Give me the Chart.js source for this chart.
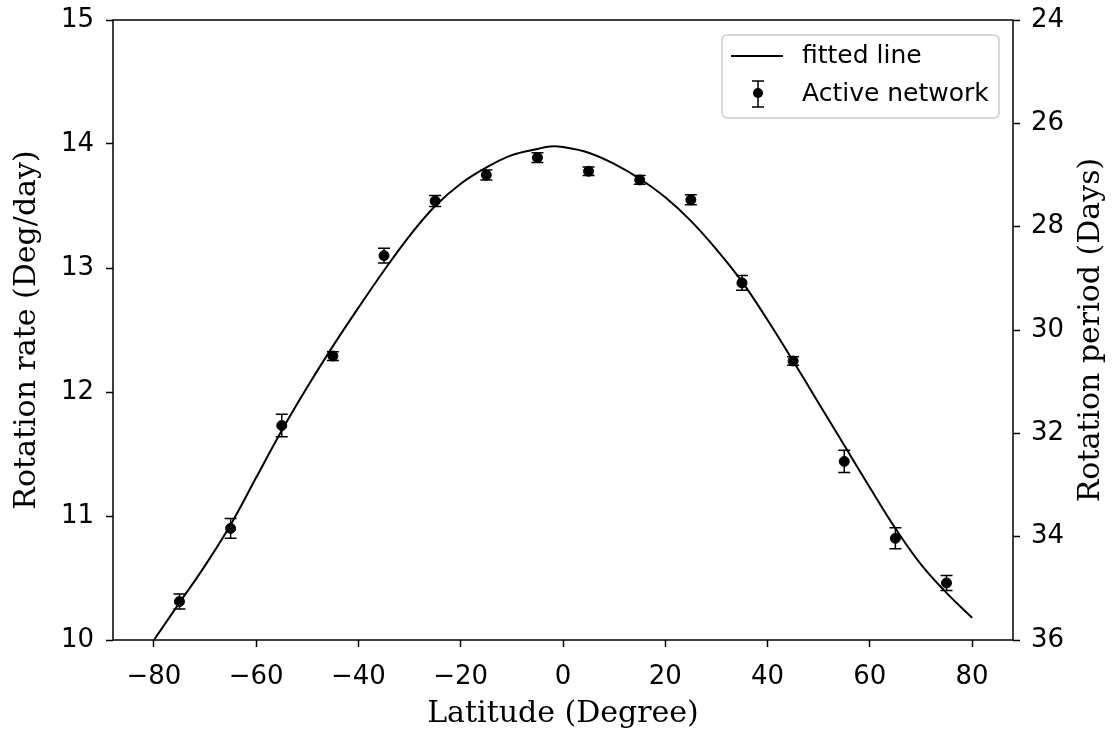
<!DOCTYPE html>
<html>
<head>
<meta charset="utf-8">
<script src="https://cdn.jsdelivr.net/npm/chart.js@4/dist/chart.umd.min.js"></script>
<style>
  html, body { margin: 0; padding: 0; background: #fff; }
  #wrap { width: 1114px; height: 736px; position: relative; }
</style>
</head>
<body>
<div id="wrap"><canvas id="rotationChart"></canvas></div>
<script>
// measured points (latitude, rotation rate, half error bar)
const latitudes = [-75, -65, -55, -45, -35, -25, -15, -5, 5, 15, 25, 35, 45, 55, 65, 75];
const rotationRate = [10.31, 10.90, 11.73, 12.29, 13.10, 13.54, 13.75, 13.89, 13.78, 13.71, 13.55, 12.88, 12.25, 11.44, 10.82, 10.46];
const rateError = [0.06, 0.08, 0.09, 0.035, 0.06, 0.045, 0.04, 0.04, 0.035, 0.035, 0.04, 0.06, 0.035, 0.09, 0.085, 0.06];

// fitted line
const fitLatitudes = [-80, -75, -70, -65, -60, -55, -50, -45, -40, -35, -30, -25, -20, -15, -10, -5, -2.5, 0, 5, 10, 15, 20, 25, 30, 35, 40, 45, 50, 55, 60, 65, 70, 75, 80];
const fitRate = [10.00, 10.30, 10.60, 10.93, 11.31, 11.69, 12.04, 12.37, 12.68, 12.98, 13.26, 13.50, 13.68, 13.81, 13.91, 13.96, 13.98, 13.975, 13.93, 13.84, 13.72, 13.57, 13.38, 13.15, 12.89, 12.58, 12.25, 11.91, 11.57, 11.23, 10.90, 10.61, 10.38, 10.18];

const xTicks = [-80, -60, -40, -20, 0, 20, 40, 60, 80];
const rateTicks = [10, 11, 12, 13, 14, 15];
const periodTicks = [24, 26, 28, 30, 32, 34, 36];

const legendLabels = ["fitted line", "Active network"];

const tickFont = { family: "DejaVu Sans", size: 26 };
const titleFont = { family: "DejaVu Serif", size: 30 };

function minus(v) {
  return v < 0 ? "\u2212" + Math.abs(v) : String(v);
}

function noPad(s) {
  s.paddingTop = 0; s.paddingBottom = 0; s.paddingLeft = 0; s.paddingRight = 0;
}

// error bars drawn under the markers
const errorBars = {
  id: "errorBars",
  beforeDatasetsDraw(chart) {
    const meta = chart.getDatasetMeta(1);
    const y = chart.scales.y;
    const ctx = chart.ctx;
    ctx.save();
    ctx.strokeStyle = "#000";
    ctx.lineWidth = 1.5;
    meta.data.forEach((pt, i) => {
      const top = y.getPixelForValue(rotationRate[i] + rateError[i]);
      const bot = y.getPixelForValue(rotationRate[i] - rateError[i]);
      ctx.beginPath();
      ctx.moveTo(pt.x, top); ctx.lineTo(pt.x, bot);
      ctx.moveTo(pt.x - 6, top); ctx.lineTo(pt.x + 6, top);
      ctx.moveTo(pt.x - 6, bot); ctx.lineTo(pt.x + 6, bot);
      ctx.stroke();
    });
    ctx.restore();
  }
};

// frame, right axis title and the boxed legend
const decorations = {
  id: "decorations",
  afterDraw(chart) {
    const { ctx, chartArea: a } = chart;
    ctx.save();
    ctx.strokeStyle = "#000";
    ctx.lineWidth = 1.5;
    ctx.strokeRect(a.left, a.top, a.right - a.left, a.bottom - a.top);

    // right title reads bottom to top
    ctx.font = titleFont.size + "px '" + titleFont.family + "'";
    ctx.fillStyle = "#000";
    ctx.textAlign = "center";
    ctx.textBaseline = "middle";
    ctx.translate(1091, (a.top + a.bottom) / 2);
    ctx.rotate(-Math.PI / 2);
    ctx.fillText("Rotation period (Days)", 0, 0);
    ctx.restore();

    // legend
    ctx.save();
    const bx = a.right - 291, by = a.top + 15, bw = 277, bh = 83;
    ctx.beginPath();
    ctx.roundRect(bx, by, bw, bh, 5);
    ctx.fillStyle = "rgba(255,255,255,0.8)";
    ctx.fill();
    ctx.strokeStyle = "#cccccc";
    ctx.lineWidth = 1.5;
    ctx.stroke();

    ctx.strokeStyle = "#000";
    ctx.lineWidth = 2;
    ctx.beginPath();
    ctx.moveTo(bx + 9, by + 21); ctx.lineTo(bx + 61, by + 21);
    ctx.stroke();

    const ex = bx + 36, ey = by + 58;
    ctx.lineWidth = 1.5;
    ctx.beginPath();
    ctx.moveTo(ex, ey - 12); ctx.lineTo(ex, ey + 14);
    ctx.moveTo(ex - 6, ey - 12); ctx.lineTo(ex + 6, ey - 12);
    ctx.moveTo(ex - 6, ey + 14); ctx.lineTo(ex + 6, ey + 14);
    ctx.stroke();
    ctx.beginPath();
    ctx.arc(ex, ey, 5, 0, Math.PI * 2);
    ctx.fillStyle = "#000";
    ctx.fill();

    ctx.font = "25px 'DejaVu Sans'";
    ctx.textAlign = "left";
    ctx.textBaseline = "middle";
    ctx.fillText(legendLabels[0], bx + 80, by + 21);
    ctx.fillText(legendLabels[1], bx + 80, by + 59);
    ctx.restore();
  }
};

const ctx = document.getElementById("rotationChart").getContext("2d");

new Chart(ctx, {
  type: "scatter",
  data: {
    datasets: [
      {
        label: legendLabels[0],
        type: "line",
        data: fitLatitudes.map((x, i) => ({ x: x, y: fitRate[i] })),
        borderColor: "#000",
        borderWidth: 2,
        pointRadius: 0,
        fill: false,
        tension: 0.4,
        yAxisID: "y",
      },
      {
        label: legendLabels[1],
        data: latitudes.map((x, i) => ({ x: x, y: rotationRate[i] })),
        backgroundColor: "#000",
        borderColor: "#000",
        pointRadius: 5,
        pointHoverRadius: 5,
        showLine: false,
        yAxisID: "y",
      },
    ],
  },
  options: {
    responsive: true,
    maintainAspectRatio: false,
    animation: false,
    events: [],
    layout: { padding: { top: 20, left: 0, right: 0, bottom: 0 } },
    plugins: {
      legend: { display: false },
      tooltip: { enabled: false },
    },
    scales: {
      x: {
        type: "linear",
        min: -88,
        max: 88,
        afterBuildTicks: (s) => { s.ticks = xTicks.map((v) => ({ value: v })); },
        afterFit: (s) => { s.height = 96; noPad(s); },
        ticks: { font: tickFont, color: "#000", padding: 15, maxRotation: 0, callback: minus },
        grid: { drawOnChartArea: false, tickLength: 7, tickColor: "#000", tickWidth: 1.5 },
        border: { display: false },
        title: {
          display: true,
          text: "Latitude (Degree)",
          font: titleFont,
          color: "#000",
          padding: { top: 0, bottom: 4 },
        },
      },
      y: {
        type: "linear",
        position: "left",
        min: 10,
        max: 15,
        afterBuildTicks: (s) => { s.ticks = rateTicks.map((v) => ({ value: v })); },
        afterFit: (s) => { s.width = 113; noPad(s); },
        ticks: { font: tickFont, color: "#000", padding: 12 },
        grid: { drawOnChartArea: false, tickLength: 7, tickColor: "#000", tickWidth: 1.5 },
        border: { display: false },
        title: {
          display: true,
          text: "Rotation rate (Deg/day)",
          font: titleFont,
          color: "#000",
          padding: { top: 9, bottom: 0 },
        },
      },
      y2: {
        type: "linear",
        position: "right",
        min: 24,
        max: 36,
        reverse: true,
        afterBuildTicks: (s) => { s.ticks = periodTicks.map((v) => ({ value: v })); },
        afterFit: (s) => { s.width = 101; noPad(s); },
        ticks: { font: tickFont, color: "#000", padding: 11 },
        grid: { drawOnChartArea: false, tickLength: 7, tickColor: "#000", tickWidth: 1.5 },
        border: { display: false },
      },
    },
  },
  plugins: [errorBars, decorations],
});
</script>
</body>
</html>
